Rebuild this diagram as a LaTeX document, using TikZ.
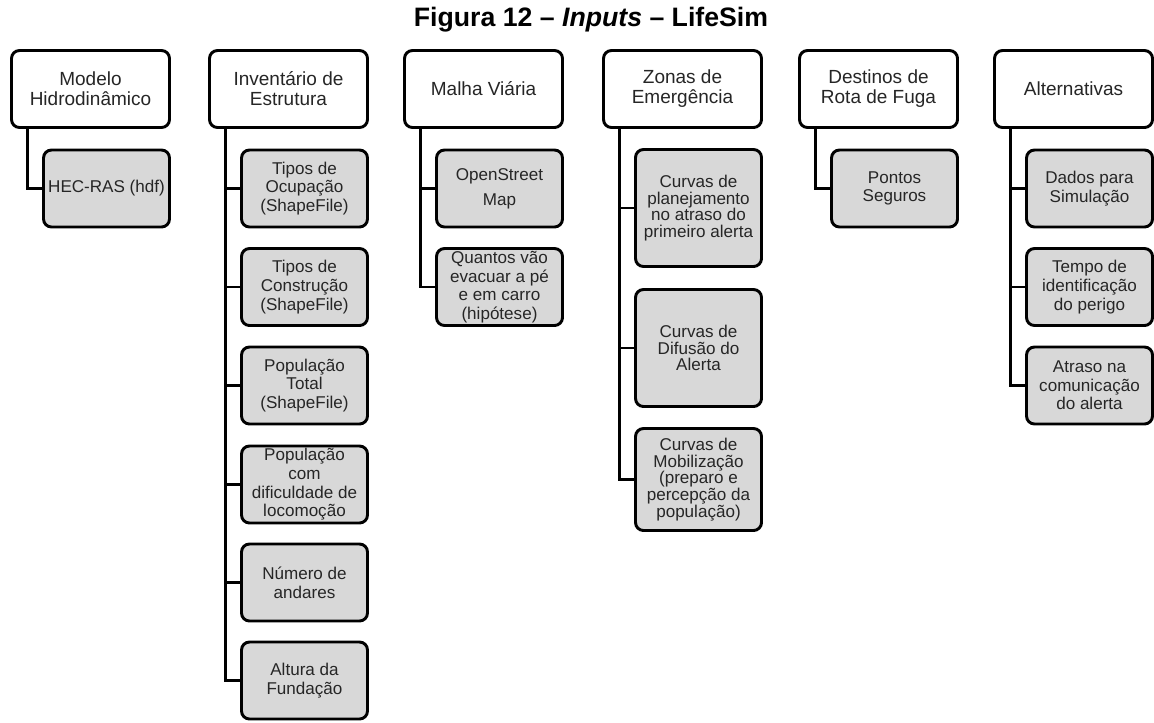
\documentclass[tikz,border=0pt]{standalone}
\usepackage{fontspec}
\setmainfont{Liberation Sans}
\usetikzlibrary{positioning}
\definecolor{itemgray}{RGB}{216,216,216}

\begin{document}
\begin{tikzpicture}[
    x=0.75pt, y=-0.75pt,
    head/.style={rounded corners=6pt, draw=black, fill=white, line width=2.2pt,
                 align=center, inner sep=1pt, text=black!85,
                 minimum width=118.5pt, minimum height=57.75pt,
                 font=\fontsize{14.25}{15}\selectfont},
    item/.style={rounded corners=6pt, draw=black, fill=itemgray, line width=2.2pt,
                 align=center, inner sep=1pt, text=black!85,
                 minimum width=94.5pt, minimum height=57.75pt,
                 font=\fontsize{12.8}{14}\selectfont},
    tallitem/.style={item, minimum height=87.75pt, font=\fontsize{12.8}{12.6}\selectfont},
    link/.style={draw=black, line width=2.2pt}
]
\useasboundingbox (0,0) rectangle (1154,722);

\node (title) at (591,19.5) {\fontsize{20}{24}\selectfont\bfseries Figura 12 -- \textit{Inputs} -- LifeSim};

% column heads
\node[head] (mod)    at (90.5,89)   {Modelo\\Hidrodinâmico};
\node[head] (inv)    at (288.5,89)  {Inventário de\\Estrutura};
\node[head] (malha)  at (483.5,89)  {Malha Viária};
\node[head] (zonas)  at (682.5,89)  {Zonas de\\Emergência};
\node[head] (dest)   at (878.5,89)  {Destinos de\\Rota de Fuga};
\node[head] (alt)    at (1073.5,89) {Alternativas};

% inputs
\node[item] (hec)     at (106.5,188.5) {HEC-RAS (hdf)};

\node[item] (ocup)    at (304.5,188.5) {Tipos de\\Ocupação\\(ShapeFile)};
\node[item] (constr)  at (304.5,287)   {Tipos de\\Construção\\(ShapeFile)};
\node[item] (poptot)  at (304.5,385.5) {População\\Total\\(ShapeFile)};
\node[item] (popdif)  at (304.5,484.5) {População\\com\\dificuldade de\\locomoção};
\node[item] (andares) at (304.5,582.5) {Número de\\andares};
\node[item] (fund)    at (304.5,680.5) {Altura da\\Fundação};

\node[item] (osm)     at (499.5,188.5) {OpenStreet\\[5pt]Map};
\node[item] (evac)    at (499.5,287)   {Quantos vão\\evacuar a pé\\e em carro\\(hipótese)};

\node[tallitem] (plan)  at (698.5,208)   {Curvas de\\planejamento\\no atraso do\\primeiro alerta};
\node[tallitem] (difus) at (698.5,348)   {Curvas de\\Difusão do\\Alerta};
\node[tallitem, minimum height=76.5pt] (mobil) at (698.5,479.5)
      {Curvas de\\Mobilização\\(preparo e\\percepção da\\população)};

\node[item] (pontos)  at (894.5,188.5) {Pontos\\Seguros};

\node[item] (dados)   at (1089.5,188.5) {Dados para\\Simulação};
\node[item] (tempo)   at (1089.5,287)   {Tempo de\\identificação\\do perigo};
\node[item] (atraso)  at (1089.5,385.5) {Atraso na\\comunicação\\do alerta};

\foreach \p/\c in {mod/hec, inv/ocup, inv/constr, inv/poptot, inv/popdif, inv/andares, inv/fund,
                   malha/osm, malha/evac, zonas/plan, zonas/difus, zonas/mobil,
                   dest/pontos, alt/dados, alt/tempo, alt/atraso}
  {\draw[link] ([xshift=-47.6pt]\p.south) |- (\c.west);}
\end{tikzpicture}
\end{document}
